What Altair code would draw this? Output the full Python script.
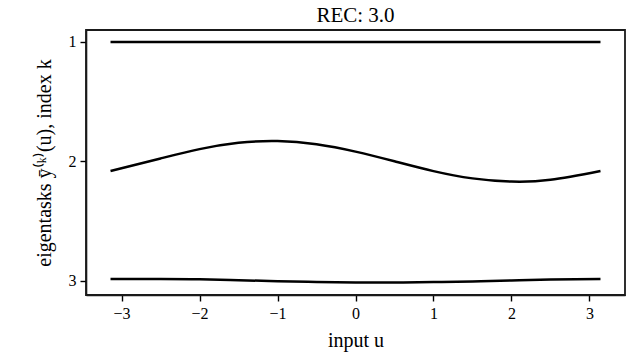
import altair as alt
import pandas as pd

u_vals = [-3.1416, -2.5, -2.0, -1.5, -1.0, -0.5, 0.0, 0.5, 1.0, 1.5, 2.0, 2.5, 3.1416]
task1 = [1.0] * 13
task2 = [2.081, 1.976, 1.898, 1.845, 1.830, 1.857, 1.919, 2.000, 2.082, 2.143, 2.170, 2.155, 2.081]
task3 = [2.985, 2.985, 2.989, 2.996, 3.004, 3.011, 3.015, 3.016, 3.012, 3.006, 2.998, 2.991, 2.985]
x_ticks = [-3, -2, -1, 0, 1, 2, 3]
y_ticks = [1, 2, 3]
x_domain = [-3.456, 3.456]
y_domain = [0.9, 3.12]

rows = []
for k, series in enumerate([task1, task2, task3], start=1):
    for u, v in zip(u_vals, series):
        rows.append({"u": u, "y": v, "k": k})
df = pd.DataFrame(rows)

FONT = "Liberation Serif"
W, H = 539, 265

xs = alt.Scale(domain=x_domain, nice=False, zero=False)
ys = alt.Scale(domain=y_domain, reverse=True, nice=False, zero=False)

chart = alt.Chart(df).mark_line(
    color="black", strokeWidth=2.5, interpolate="natural"
).encode(
    x=alt.X("u:Q", scale=xs,
            axis=alt.Axis(values=x_ticks, title="input u", grid=False, format="d",
                          titlePadding=9)),
    y=alt.Y("y:Q", scale=ys,
            axis=alt.Axis(values=y_ticks, title="eigentasks ȳ⁽ᵏ⁾(u), index k", grid=False,
                          format="d", titlePadding=14)),
    detail="k:N",
).properties(
    width=W,
    height=H,
    title=alt.TitleParams("REC: 3.0", font=FONT, fontSize=21, fontWeight="normal",
                          color="black", offset=4, anchor="middle"),
    autosize=alt.AutoSizeParams(type="none"),
    padding={"left": 86, "top": 30, "right": 9, "bottom": 61},
).configure_view(
    stroke="#1a1a1a", strokeWidth=1.8
).configure_axis(
    domainColor="#1a1a1a", domainWidth=1.6,
    tickColor="black", tickWidth=1.4, tickSize=6,
    labelFont=FONT, labelFontSize=16, labelColor="black", labelPadding=4,
    titleFont=FONT, titleFontSize=20, titleFontWeight="normal", titleColor="black",
)

chart.save("out.html", embed_options={"renderer": "svg", "actions": False})
